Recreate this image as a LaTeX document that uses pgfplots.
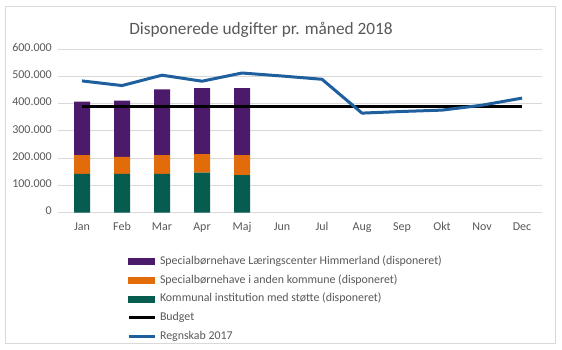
\documentclass[border=0pt]{standalone}
\usepackage{pgfplots}
\pgfplotsset{compat=1.18}
\usepackage{fontspec}
\setmainfont{Carlito}
\definecolor{txtgray}{HTML}{595959}
\definecolor{gridgray}{HTML}{D9D9D9}
\definecolor{framegray}{HTML}{D9D9D9}
\definecolor{purp}{HTML}{4B1A6B}
\definecolor{oran}{HTML}{E36C0A}
\definecolor{gree}{HTML}{055C4F}
\definecolor{blu}{HTML}{1F5F9E}
\pgfplotsset{commonax/.style={
  at={(58pt,137.3pt)}, anchor=south west, scale only axis,
  width=484pt, height=163.7pt,
  xmin=-0.6, xmax=11.5, ymin=0, ymax=600000,
  axis line style={draw=none}, tick style={draw=none},
  clip=false,
}}
\begin{document}
\begin{tikzpicture}[x=1pt,y=1pt]
\fill[white] (0,0) rectangle (562,350);
\draw[framegray, line width=0.8pt] (5.5,6.5) rectangle (555,343.5);
\node[anchor=base, text=txtgray, inner sep=0pt, font=\fontsize{17.3}{20}\selectfont] at (261,315) {Disponerede udgifter pr. måned 2018};

\begin{axis}[commonax,
  ybar stacked, bar width=16pt,
  ymajorgrids, major grid style={gridgray, line width=0.75pt},
  ytick={0,100000,200000,300000,400000,500000,600000},
  scaled y ticks=false,
  xtick={0,1,2,3,4,5,6,7,8,9,10,11},
  xticklabels={Jan,Feb,Mar,Apr,Maj,Jun,Jul,Aug,Sep,Okt,Nov,Dec},
  yticklabel style={anchor=base east, inner sep=0pt, xshift=-6pt, yshift=-2.3pt, text=txtgray, font=\fontsize{12}{14}\selectfont},
  xticklabel style={anchor=base, inner sep=0pt, yshift=-18pt, text=txtgray, font=\fontsize{12}{14}\selectfont},
  /pgf/number format/fixed,
  /pgf/number format/1000 sep={.},
  /pgf/number format/assume math mode=true,
]
\addplot[fill=gree, draw=none] coordinates {(0,142000) (1,142000) (2,142000) (3,147000) (4,138000)};
\addplot[fill=oran, draw=none] coordinates {(0,69000) (1,63000) (2,69000) (3,68000) (4,73000)};
\addplot[fill=purp, draw=none] coordinates {(0,196000) (1,206000) (2,241000) (3,242000) (4,246000)};
\end{axis}

\begin{axis}[commonax,
  xtick=\empty, ytick=\empty,
  legend cell align=left,
  legend style={at={(0.14256,-0.2645)}, anchor=north west, draw=none, fill=none,
    inner sep=0pt, outer sep=0pt, row sep=7.75pt, column sep=4pt,
    nodes={inner sep=0pt, text height=8.5pt, text depth=2.5pt, text=txtgray, font=\fontsize{11.9}{14}\selectfont}},
]
\addlegendimage{legend image code/.code={\fill[purp] (0pt,-3pt) rectangle (26pt,3pt);}}
\addlegendimage{legend image code/.code={\fill[oran] (0pt,-3pt) rectangle (26pt,3pt);}}
\addlegendimage{legend image code/.code={\fill[gree] (0pt,-3pt) rectangle (26pt,3pt);}}
\addlegendimage{legend image code/.code={\draw[black, line width=3pt] (0pt,0pt) -- (26pt,0pt);}}
\addlegendimage{legend image code/.code={\draw[blu, line width=3pt] (0pt,0pt) -- (26pt,0pt);}}
\addplot[black, line width=3pt] coordinates {(0,391000) (1,391000) (2,391000) (3,391000) (4,391000) (5,391000) (6,391000) (7,391000) (8,391000) (9,391000) (10,391000) (11,391000)};
\addplot[blu, line width=3pt, line join=round] coordinates {(0,483000) (1,466000) (2,504000) (3,482000) (4,512000) (5,501000) (6,489000) (7,365000) (8,371000) (9,376000) (10,394000) (11,420000)};
\legend{Specialbørnehave Læringscenter Himmerland (disponeret),Specialbørnehave i anden kommune (disponeret),Kommunal institution med støtte (disponeret),Budget,Regnskab 2017}
\end{axis}
\end{tikzpicture}
\end{document}
